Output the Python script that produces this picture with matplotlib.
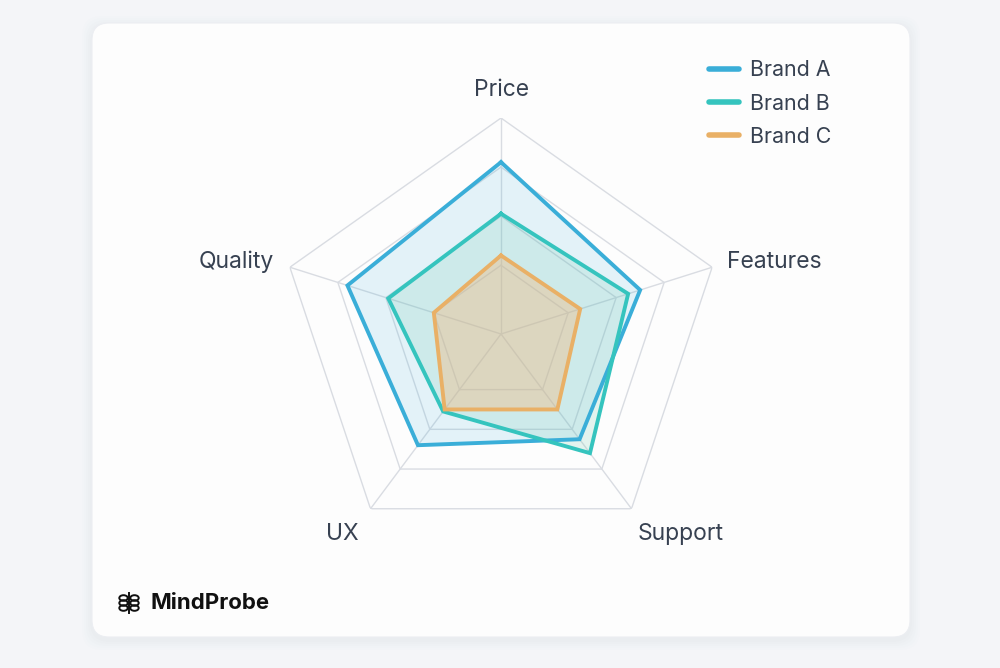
import numpy as np
import matplotlib
matplotlib.use("Agg")
import matplotlib.pyplot as plt
from matplotlib.patches import FancyBboxPatch, Circle
from matplotlib.lines import Line2D

plt.rcParams['font.family'] = ['Inter', 'DejaVu Sans']

categories = ["Price", "Features", "Support", "UX", "Quality"]
brands = ["Brand A", "Brand B", "Brand C"]
brand_a = [82, 70, 65, 68, 76]
brand_b = [61, 65, 72, 51, 59]
brand_c = [44, 45, 50, 50, 40]
ring_levels = [40, 60, 80, 100]
r_min, r_max = 12, 100

line_colors = ["#3aaed8", "#35c4be", "#e9b066"]
fill_colors = ["#3aaed8", "#6ec6ac", "#f5b880"]
fill_alpha = [0.135, 0.18, 0.4]
text_col = "#374151"
grid_col = "#d9dce2"

W, H = 1000, 668
fig = plt.figure(figsize=(W / 100, H / 100), dpi=100)
fig.patch.set_facecolor("#f4f5f8")

# card with a soft shadow
for i, a in enumerate([0.012, 0.012, 0.014, 0.016, 0.02]):
    g = 10 - i * 2
    sh = FancyBboxPatch(((92 - g) / W, (H - 640 - g) / H), (818 + 2 * g) / W, (614 + 2 * g) / H,
                        boxstyle="round,pad=0,rounding_size=0.02",
                        transform=fig.transFigure, fc="#9aa0ac", ec="none", alpha=a,
                        mutation_aspect=W / H, zorder=-2)
    fig.patches.append(sh)
card = FancyBboxPatch((92 / W, (H - 637) / H), 818 / W, 614 / H,
                      boxstyle="round,pad=0,rounding_size=0.017",
                      transform=fig.transFigure, fc="#fdfdfd", ec="#eceef2", lw=0.8,
                      mutation_aspect=W / H, zorder=-1)
fig.patches.append(card)

# radar axes: centre (501, 334), radius 216 px (slightly wider horizontally)
cx, cy, Rx, Ry = 501, 334, 222, 216
ax = fig.add_axes([(cx - Rx) / W, (H - cy - Ry) / H, 2 * Rx / W, 2 * Ry / H], projection="polar")
ax.set_aspect("auto")
ax.set_zorder(2)
ax.set_theta_offset(np.pi / 2)
ax.set_theta_direction(-1)
ax.set_ylim(r_min, r_max)
ax.set_facecolor("none")
ax.grid(False)
ax.spines["polar"].set_visible(False)
ax.set_xticks([])
ax.set_yticks([])

angles = np.linspace(0, 2 * np.pi, len(categories), endpoint=False)
closed = np.concatenate([angles, angles[:1]])

for lvl in ring_levels:
    ax.plot(closed, [lvl] * len(closed), color=grid_col, lw=1, zorder=1)
for a in angles:
    ax.plot([a, a], [r_min, r_max], color=grid_col, lw=1, zorder=1)

for vals, lc, fc, fa, name in zip([brand_a, brand_b, brand_c], line_colors, fill_colors,
                                  fill_alpha, brands):
    v = np.concatenate([vals, vals[:1]])
    ax.fill(closed, v, color=fc, alpha=fa, lw=0, zorder=2)
    ax.plot(closed, v, color=lc, lw=2.8, zorder=3, solid_joinstyle="miter", label=name)

# axis labels, offset from the outer vertex in pixels
offsets = [(0, 22), (15, -1), (6, -31), (-12, -31), (-16, -1)]
ha_list = ["center", "left", "left", "right", "right"]
for a, lab, (ox, oy), ha in zip(angles, categories, offsets, ha_list):
    ax.annotate(lab, xy=(a, r_max), xytext=(ox * 0.72, oy * 0.72), textcoords="offset points",
                ha=ha, va="baseline", fontsize=16.5, color=text_col, annotation_clip=False)

# legend
handles = [Line2D([0], [0], color=c, lw=4, solid_capstyle="round") for c in line_colors]
fig.legend(handles, brands, loc="upper left", bbox_to_anchor=(690 / W, 1 - 41 / H),
           frameon=False, fontsize=15.4, labelcolor=text_col, handlelength=1.4,
           handletextpad=0.5, labelspacing=0.62)

# logo
lx, ly = 129, 603
for dx in (-5.5, 5.5):
    for dy in (-5, 0, 5):
        fig.patches.append(Circle(((lx + dx) / W, (H - ly - dy) / H), 4.2 / W,
                                  transform=fig.transFigure, fc="none", ec="#111111", lw=1.4))
fig.add_artist(Line2D([lx / W, lx / W], [(H - ly - 10) / H, (H - ly + 10) / H],
                      color="#111111", lw=1.4))
fig.text(150 / W, 1 - ly / H, "MindProbe", fontsize=16, fontweight="bold",
         color="#111111", ha="left", va="center")

fig.savefig("out.png", dpi=100, facecolor=fig.get_facecolor())
